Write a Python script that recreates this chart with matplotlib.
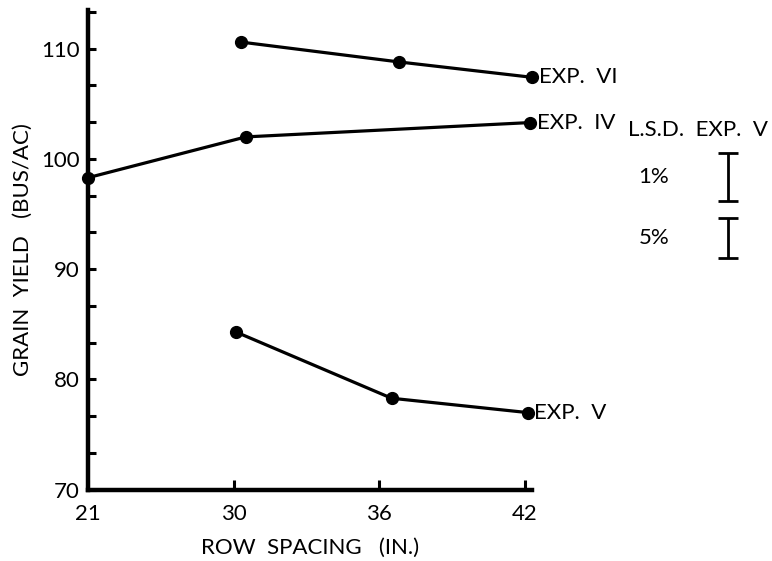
import numpy as np
import matplotlib
matplotlib.use("Agg")
import matplotlib.pyplot as plt
from matplotlib.ticker import FixedLocator, NullLocator

# --------------------------------------------
# Data
# --------------------------------------------
row_spacing = [21, 30, 36, 42]
tick_labels = ["21", "30", "36", "42"]

exp_vi_x = [30.3, 36.8, 42.3]
exp_vi_y = [110.6, 108.8, 107.4]

exp_iv_x = [21.0, 30.5, 42.2]
exp_iv_y = [98.3, 102.0, 103.3]

exp_v_x = [30.1, 36.5, 42.1]
exp_v_y = [84.3, 78.3, 77.0]

series_names = ["EXP.  VI", "EXP.  IV", "EXP.  V"]

lsd_labels = ["1%", "5%"]
lsd_values = [4.4, 3.6]   # full length of the L.S.D. bars (bus/ac)

# --------------------------------------------
# Helper: row spacings are drawn equally spaced
# --------------------------------------------
knots_in = [0.0] + row_spacing + [100.0]
knots_pos = [-21 / 9] + list(range(len(row_spacing))) + [3 + 58 / 6]

def fwd(x):
    return np.interp(x, knots_in, knots_pos)

def inv(p):
    return np.interp(p, knots_pos, knots_in)

plt.rcParams["font.family"] = ["Lato", "DejaVu Sans"]
FS = 16

fig = plt.figure(figsize=(7.72, 5.61), dpi=100)
ax = fig.add_axes([0.114, 0.127, 0.575, 0.855])
ax.set_xscale("function", functions=(fwd, inv))

for xs, ys, name in zip([exp_vi_x, exp_iv_x, exp_v_x],
                        [exp_vi_y, exp_iv_y, exp_v_y], series_names):
    ax.plot(xs, ys, color="black", linewidth=2.3, marker="o",
            markersize=8.5, clip_on=False, zorder=3)
    ax.annotate(name, xy=(xs[-1], ys[-1]), xytext=(5, 0),
                textcoords="offset points", va="center", ha="left",
                fontsize=FS, annotation_clip=False)

ax.set_xlim(21, 42.28)
ax.set_ylim(70, 113.5)

ax.xaxis.set_major_locator(FixedLocator(row_spacing))
ax.set_xticklabels(tick_labels)
ax.xaxis.set_minor_locator(NullLocator())
ax.yaxis.set_major_locator(FixedLocator([70, 80, 90, 100, 110]))
ax.yaxis.set_minor_locator(FixedLocator(np.arange(70, 113.4, 10 / 3)))

for side in ["top", "right"]:
    ax.spines[side].set_visible(False)
for side in ["left", "bottom"]:
    ax.spines[side].set_linewidth(3.2)

ax.tick_params(axis="both", which="both", direction="in", width=2.2,
               length=5.5, labelsize=FS, color="black")
ax.tick_params(axis="y", which="major", pad=6)
ax.tick_params(axis="x", which="major", pad=10, length=7)

ax.set_xlabel("ROW  SPACING   (IN.)", fontsize=FS, labelpad=10)
ax.set_ylabel("GRAIN  YIELD   (BUS/AC)", fontsize=FS, labelpad=6)

# --------------------------------------------
# L.S.D. bars for Exp. V
# --------------------------------------------
ax.text(49.1, 102.6, "L.S.D.  EXP.  V", fontsize=FS, ha="center",
        va="center", clip_on=False)
bar_x = 50.35
label_x = 47.3
centers = [98.35, 92.85]
for lab, val, cy in zip(lsd_labels, lsd_values, centers):
    eb = ax.errorbar(bar_x, cy, yerr=val / 2, fmt="none", ecolor="black",
                     elinewidth=2.0, capsize=7, capthick=2.0)
    for art in eb.get_children():
        art.set_clip_on(False)
    ax.text(label_x, cy, lab, fontsize=FS, ha="center", va="center",
            clip_on=False)

fig.savefig("out.png", dpi=100)
